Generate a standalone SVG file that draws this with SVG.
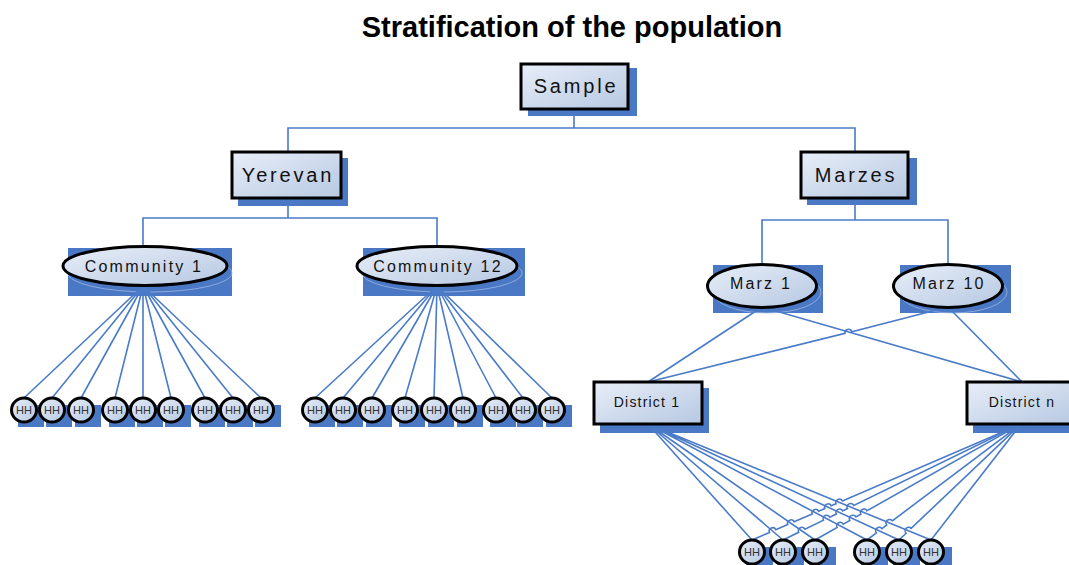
<svg xmlns="http://www.w3.org/2000/svg" width="1069" height="565" viewBox="0 0 1069 565">
<defs>
<linearGradient id="fillg" x1="0" y1="0" x2="1" y2="1">
<stop offset="0" stop-color="#e8eef8"/>
<stop offset="1" stop-color="#b6c8e2"/>
</linearGradient>
<style>
.title{font-family:"Liberation Sans",Arial,sans-serif;font-weight:bold;font-size:29px;fill:#000;text-anchor:middle}
.box{fill:url(#fillg);stroke:#000;stroke-width:3}
.sh{fill:#4a78c4}
.shl{fill:none;stroke:#9db8e4;stroke-width:0.8}
.con{fill:none;stroke:#4a7bc8;stroke-width:1.6}
.t20{font-family:"Liberation Sans",Arial,sans-serif;font-size:20px;letter-spacing:2.8px;fill:#111;text-anchor:middle}
.t16{font-family:"Liberation Sans",Arial,sans-serif;font-size:16px;letter-spacing:2.2px;fill:#111;text-anchor:middle}
.t14{font-family:"Liberation Sans",Arial,sans-serif;font-size:14px;letter-spacing:1.2px;fill:#111;text-anchor:middle}
.hh{fill:url(#fillg);stroke:#000;stroke-width:3}
.thh{font-family:"Liberation Sans",Arial,sans-serif;font-size:11px;fill:#333;text-anchor:middle}
</style>
<g id="hhsym">
<ellipse cx="0" cy="0" rx="12.5" ry="12" class="hh"/>
<text x="0" y="4" class="thh">HH</text>
</g>
</defs>
<text x="572" y="37" class="title">Stratification of the population</text>

<g id="shadows">
<rect x="528" y="68" width="109" height="48" class="sh"/>
<rect x="238" y="158" width="110" height="48" class="sh"/>
<rect x="807" y="158" width="110" height="47" class="sh"/>
<rect x="68" y="248" width="164" height="48" class="sh"/>
<ellipse cx="150" cy="273" rx="82" ry="19" class="shl"/>
<rect x="363" y="248" width="162" height="48" class="sh"/>
<ellipse cx="442" cy="273" rx="80" ry="19" class="shl"/>
<rect x="713" y="265" width="110" height="48" class="sh"/>
<ellipse cx="767" cy="292" rx="54" ry="21" class="shl"/>
<rect x="900" y="265" width="111" height="48" class="sh"/>
<ellipse cx="953" cy="292" rx="54" ry="21" class="shl"/>
<rect x="600" y="388" width="109" height="45" class="sh"/>
<rect x="973" y="388" width="110" height="45" class="sh"/>
<g>
<rect x="18" y="405" width="26" height="22" class="sh"/><rect x="46" y="405" width="26" height="22" class="sh"/><rect x="75" y="405" width="26" height="22" class="sh"/>
<rect x="109" y="405" width="26" height="22" class="sh"/><rect x="137" y="405" width="26" height="22" class="sh"/><rect x="165" y="405" width="26" height="22" class="sh"/>
<rect x="199" y="405" width="26" height="22" class="sh"/><rect x="227" y="405" width="26" height="22" class="sh"/><rect x="255" y="405" width="26" height="22" class="sh"/>
<rect x="309" y="405" width="26" height="22" class="sh"/><rect x="337" y="405" width="26" height="22" class="sh"/><rect x="366" y="405" width="26" height="22" class="sh"/>
<rect x="399" y="405" width="26" height="22" class="sh"/><rect x="428" y="405" width="26" height="22" class="sh"/><rect x="457" y="405" width="26" height="22" class="sh"/>
<rect x="490" y="405" width="26" height="22" class="sh"/><rect x="517" y="405" width="26" height="22" class="sh"/><rect x="546" y="405" width="26" height="22" class="sh"/>
<rect x="746" y="547" width="27" height="22" class="sh"/><rect x="777" y="547" width="27" height="22" class="sh"/><rect x="809" y="547" width="27" height="22" class="sh"/>
<rect x="861" y="547" width="27" height="22" class="sh"/><rect x="893" y="547" width="27" height="22" class="sh"/><rect x="925" y="547" width="27" height="22" class="sh"/>
</g>
</g>

<g id="connectors">
<path class="con" d="M574,109 V128 M288,152 V128 H855 V152"/>
<path class="con" d="M288,198 V218 M143,247 V218 H437 V247"/>
<path class="con" d="M855,198 V220 M762,265 V220 H948 V265"/>
<path class="con" d="M143,286 L24,398 M143,286 L52,398 M143,286 L81,398 M143,286 L115,398 M143,286 L143,398 M143,286 L171,398 M143,286 L205,398 M143,286 L233,398 M143,286 L261,398"/>
<path class="con" d="M437,286 L315,398 M437,286 L343,398 M437,286 L372,398 M437,286 L405,398 M437,286 L434,398 M437,286 L463,398 M437,286 L496,398 M437,286 L523,398 M437,286 L552,398"/>
<path class="con" d="M762,307 L648,382 M762,307 L1022,382"/>
<path class="con" d="M948,307 L851.8,331.8 A3.5,3.5 0 0 0 845,333.4 L648,382 M948,307 L1022,382"/>
<path class="con" d="M648,424 L752,540 M648,424 L783,540 M648,424 L815,540 M648,424 L867,540 M648,424 L899,540 M648,424 L931,540"/>
<path class="con" d="M1021,424 L842.4,501 A3.5,3.5 0 0 0 836,503.8 L831.2,505.8 A3.5,3.5 0 0 0 824.8,508.6 L818.6,511.3 A3.5,3.5 0 0 0 812.2,514.1 L794.1,521.8 A3.5,3.5 0 0 0 787.7,524.6 L775.8,529.7 A3.5,3.5 0 0 0 769.4,532.5 L752,540"/>
<path class="con" d="M1021,424 L853.75,505.47 A3.5,3.5 0 0 0 847.45,508.53 L842.65,510.97 A3.5,3.5 0 0 0 836.35,514.03 L829.85,517.17 A3.5,3.5 0 0 0 823.55,520.23 L804.95,529.27 A3.5,3.5 0 0 0 798.65,532.33 L783,540"/>
<path class="con" d="M1021,424 L866.95,510.78 A3.5,3.5 0 0 0 860.85,514.22 L855.95,516.98 A3.5,3.5 0 0 0 849.85,520.42 L843.25,524.08 A3.5,3.5 0 0 0 837.15,527.52 L815,540"/>
<path class="con" d="M1021,424 L892.3,520.89 A3.5,3.5 0 0 0 886.7,525.11 L882,528.69 A3.5,3.5 0 0 0 876.4,532.91 L867,540"/>
<path class="con" d="M1021,424 L911.14,528.39 A3.5,3.5 0 0 0 906.06,533.21 L899,540"/>
<path class="con" d="M1021,424 L931,540"/>
</g>

<g id="sample"><rect x="521" y="64" width="107" height="45" class="box"/><text x="576" y="93" class="t20">Sample</text></g>
<g id="yerevan"><rect x="232" y="152" width="109" height="46" class="box"/><text x="288" y="182" class="t20">Yerevan</text></g>
<g id="marzes"><rect x="801" y="152" width="107" height="46" class="box"/><text x="856" y="182" class="t20">Marzes</text></g>
<g id="community1"><ellipse cx="145" cy="266" rx="82" ry="19.5" class="box"/><text x="144" y="272" class="t16">Community 1</text></g>
<g id="community12"><ellipse cx="437" cy="266" rx="80" ry="19.5" class="box"/><text x="438" y="272" class="t16">Community 12</text></g>
<g id="marz1"><ellipse cx="762" cy="286" rx="54.5" ry="21.5" class="box"/><text x="761" y="289" class="t16">Marz 1</text></g>
<g id="marz10"><ellipse cx="948" cy="286" rx="54.5" ry="21.5" class="box"/><text x="949" y="289" class="t16">Marz 10</text></g>
<g id="district1"><rect x="594" y="382" width="108" height="42" class="box"/><text x="647" y="407" class="t14">District 1</text></g>
<g id="districtn"><rect x="967" y="382" width="110" height="42" class="box"/><text x="1022" y="407" class="t14">District n</text></g>

<g id="hh-community1">
<use href="#hhsym" x="24" y="410"/><use href="#hhsym" x="52" y="410"/><use href="#hhsym" x="81" y="410"/>
<use href="#hhsym" x="115" y="410"/><use href="#hhsym" x="143" y="410"/><use href="#hhsym" x="171" y="410"/>
<use href="#hhsym" x="205" y="410"/><use href="#hhsym" x="233" y="410"/><use href="#hhsym" x="261" y="410"/>
</g>
<g id="hh-community12">
<use href="#hhsym" x="315" y="410"/><use href="#hhsym" x="343" y="410"/><use href="#hhsym" x="372" y="410"/>
<use href="#hhsym" x="405" y="410"/><use href="#hhsym" x="434" y="410"/><use href="#hhsym" x="463" y="410"/>
<use href="#hhsym" x="496" y="410"/><use href="#hhsym" x="523" y="410"/><use href="#hhsym" x="552" y="410"/>
</g>
<g id="hh-districts">
<use href="#hhsym" x="752" y="552"/><use href="#hhsym" x="783" y="552"/><use href="#hhsym" x="815" y="552"/>
<use href="#hhsym" x="867" y="552"/><use href="#hhsym" x="899" y="552"/><use href="#hhsym" x="931" y="552"/>
</g>
</svg>
